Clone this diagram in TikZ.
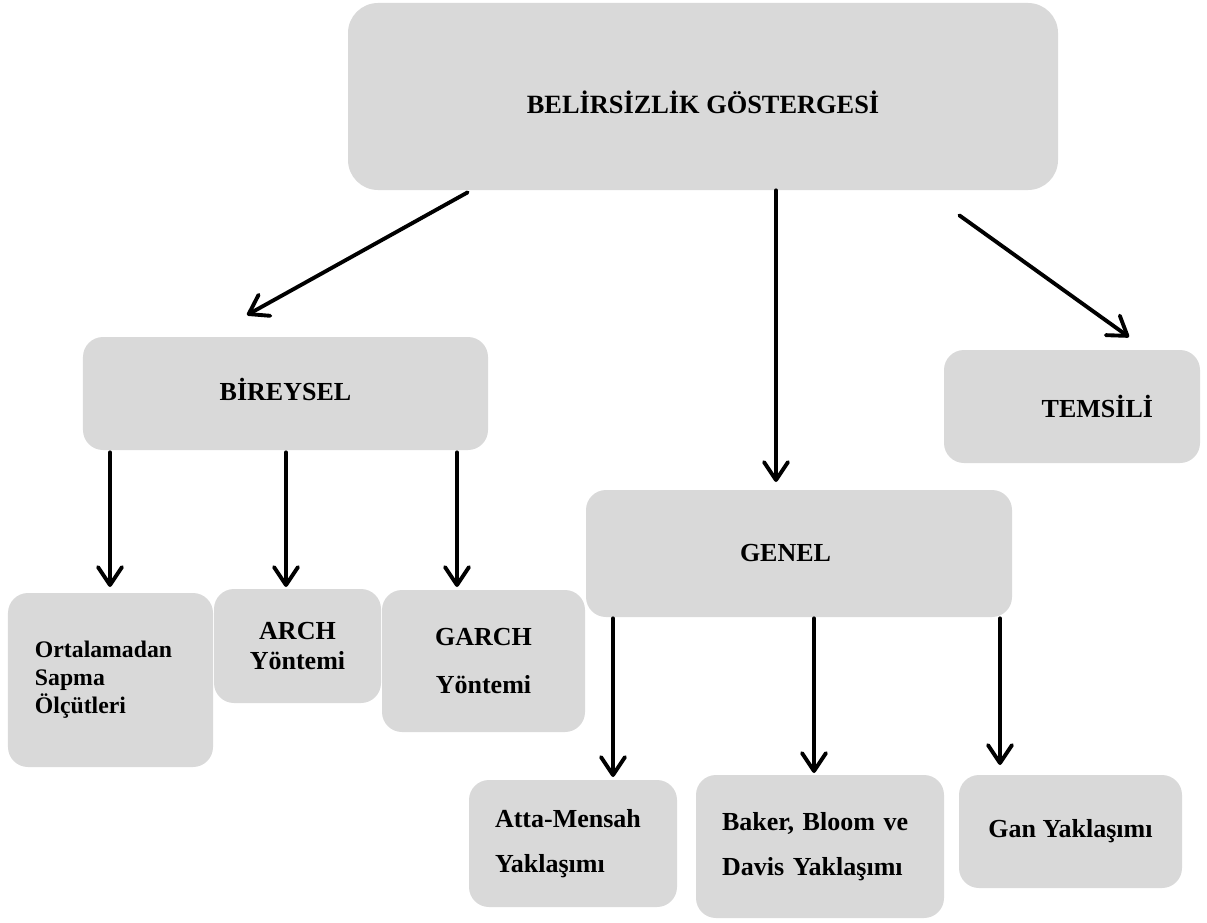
\documentclass[tikz,border=0pt]{standalone}
\usepackage{fontspec}
\setmainfont{Liberation Serif}
\usetikzlibrary{arrows.meta}
\definecolor{boxgray}{HTML}{D9D9D9}

\begin{document}
\begin{tikzpicture}[
  x=0.2mm,
  y=-0.2mm,
  box/.style={fill=boxgray, rounded corners=0.4cm, inner sep=0pt,
    font=\bfseries\fontsize{14.8}{18}\selectfont},
  arr/.style={line width=2.2pt, line cap=round,
    -{Straight Barb[length=3.6mm, width=4.8mm, round]}}
]
\useasboundingbox (0,0) rectangle (1207,922);

% top level
\node[box, rounded corners=0.6cm, minimum width=14.2cm, minimum height=3.74cm,
  text height=18.8pt, text depth=0pt,
  font=\bfseries\fontsize{15}{18}\selectfont] (bel) at (703,96.5) {BELİRSİZLİK GÖSTERGESİ};

% second level
\node[box, minimum width=8.1cm, minimum height=2.26cm, text height=8pt, text depth=0pt]
  (bir) at (285.5,393.5) {BİREYSEL};
\node[box, minimum width=5.12cm, minimum height=2.26cm, text width=3.24cm, align=right]
  (tem) at (1072,406.5) {TEMSİLİ};
\node[box, minimum width=8.52cm, minimum height=2.54cm, text width=2.36cm, align=left]
  (gen) at (799,553.5) {GENEL};

% BİREYSEL children
\node[box, minimum width=4.1cm, minimum height=3.48cm, text width=3.02cm, align=left,
  font=\bfseries\fontsize{13.5}{15.9}\selectfont] (ort) at (110.5,680)
  {Ortalamadan\\Sapma\\Ölçütleri};
\node[box, minimum width=3.34cm, minimum height=2.28cm, align=center,
  font=\bfseries\fontsize{14.8}{17.6}\selectfont] (arch) at (297.5,646) {ARCH\\Yöntemi};
\node[box, minimum width=4.06cm, minimum height=2.84cm, align=center,
  font=\bfseries\fontsize{14.8}{27.3}\selectfont] (garch) at (483.5,661) {GARCH\\Yöntemi};

% GENEL children
\node[box, minimum width=4.16cm, minimum height=2.54cm, text width=3.12cm, align=left,
  font=\bfseries\fontsize{14.8}{25.6}\selectfont] (atta) at (573,843.5)
  {Atta-Mensah\\Yaklaşımı};
\node[box, minimum width=4.96cm, minimum height=2.86cm, text width=3.92cm, align=left,
  font=\bfseries\fontsize{14.8}{25.6}\selectfont] (bak) at (820,846.5)
  {\makebox[3.92cm][s]{Baker, Bloom ve}\\\makebox[3.92cm][l]{Davis Yaklaşımı}};
\node[box, minimum width=4.46cm, minimum height=2.26cm] (gan) at (1070.5,831.5) {Gan Yaklaşımı};

% arrow tips
\coordinate (tbir) at (247,315);
\coordinate (tgen) at (776,482);
\coordinate (ttem) at (1129,337);
\coordinate (tort) at (110,587);
\coordinate (tarch) at (286,587);
\coordinate (tgarch) at (457,587);
\coordinate (tatta) at (613,777);
\coordinate (tbak) at (814,773);
\coordinate (tgan) at (1000,765);

\draw[arr] ([xshift=2.4cm, yshift=-0.04cm]bel.south west) -- (tbir);
\draw[arr] (bel.south -| tgen) -- (tgen);
\draw[arr] ([xshift=-1.98cm, yshift=-0.5cm]bel.south east) -- (ttem);

\foreach \t in {tort,tarch,tgarch}
  \draw[arr] ([yshift=-0.04cm]bir.south -| \t) -- (\t);
\foreach \t in {tatta,tbak,tgan}
  \draw[arr] ([yshift=-0.02cm]gen.south -| \t) -- (\t);
\end{tikzpicture}
\end{document}
